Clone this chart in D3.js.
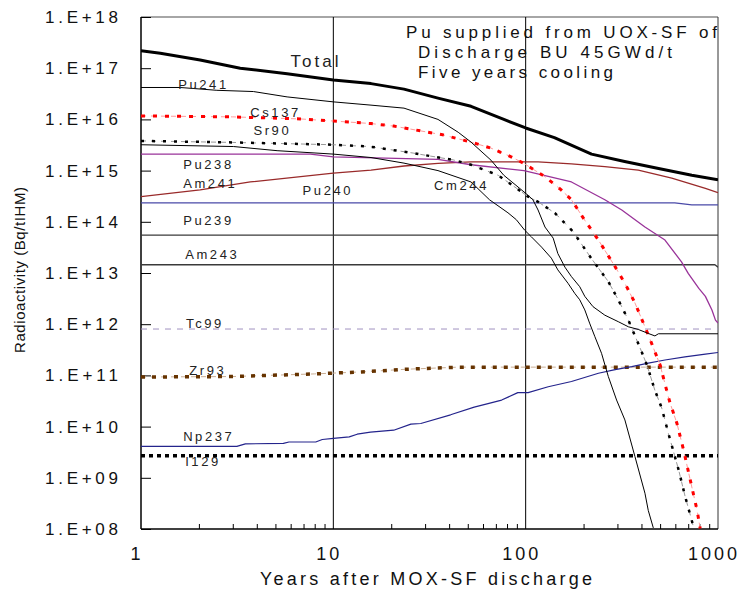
<!DOCTYPE html>
<html>
<head>
<meta charset="utf-8">
<script src="https://cdn.jsdelivr.net/npm/d3@7"></script>
<style>
  body { margin: 0; background: #fff; }
  svg { display: block; font-family: "Liberation Sans", Arial, sans-serif; }
</style>
</head>
<body>
<svg id="chart" width="740" height="590"></svg>
<script>
// values: [years after discharge, Bq/tIHM]
var total = [[1,2.2e17],[1.26,1.95e17],[2.03,1.45e17],[3.28,1.0e17],[5.75,7.8e16],[10,5.9e16],[15.7,5.0e16],
    [23.3,3.9e16],[35,2.6e16],[52,1.8e16],[77,1.0e16],[100,6.8e15],[141,4.4e15],[220,2.1e15],[327,1.5e15],
    [491,1.1e15],[731,8.1e14],[1000,6.6e14]];
var pu241 = [[1,4.2e16],[1.6,4.2e16],[2.48,3.7e16],[3.84,3.5e16],[5.75,2.75e16],[10,2.2e16],[15.7,1.9e16],
    [23.3,1.66e16],[35,1.0e16],[44.6,5.6e15],[52,3.6e15],[66,1.6e15],[77,8.1e14],[100,3.6e14],[109,2.7e14],
    [116,1.7e14],[126,7.9e13],[139,4.8e13],[147,2.4e13],[160,1.3e13],[173,8.5e12],[191,5.4e12],[203,3.5e12],
    [224,2.2e12],[258,1.5e12],[303,1.12e12],[342,8.9e11],[385,7.9e11],[434,6.6e11],[470,5.9e11],[490,6.5e11],
    [1000,6.5e11]];
var cm244 = [[1,3.2e15],[3.03,2.95e15],[5.1,2.45e15],[10,2.1e15],[15.7,1.8e15],[23.3,1.4e15],[35,1.0e15],
    [52,6.0e14],[64.8,2.7e14],[80.9,1.5e14],[89.4,1.1e14],[98.7,6.9e13],[107,5.1e13],[121,3.2e13],[136,1.95e13],
    [147,1.15e13],[166,6.3e12],[180,4.0e12],[191,3.0e12],[203,1.9e12],[215,1.05e12],[229,5.7e11],[248,2.7e11],
    [269,9.5e10],[297,3.3e10],[328,1.35e10],[370,2.6e9],[417,5.0e8],[434,2.3e8],[461,1.05e8]];
var pu238 = [[1,2.1e15],[7.6,2.1e15],[10,1.85e15],[35,1.65e15],[52,1.3e15],[98,1.0e15],[173,6.0e14],
    [258,2.7e14],[316,1.7e14],[417,7.9e13],[470,5.9e13],[530,4.4e13],[646,1.65e13],[700,9.8e12],[795,5.0e12],
    [860,3.5e12],[930,1.9e12],[970,1.2e12],[1000,1.05e12]];
var am241 = [[1,3.1e14],[2.03,4.2e14],[3.7,6.0e14],[6.76,7.6e14],[10,8.9e14],[15.7,1.02e15],[23.3,1.23e15],
    [35,1.38e15],[52,1.48e15],[116,1.48e15],[173,1.35e15],[258,1.2e15],[385,1.02e15],[575,7.1e14],
    [860,4.5e14],[1000,3.7e14]];
var pu240 = [[1,2.35e14],[596,2.35e14],[731,2.15e14],[1000,2.15e14]];
var pu239 = [[1,5.5e13],[1000,5.5e13]];
var am243 = [[1,1.45e13],[964,1.45e13],[1000,1.3e13]];
var tc99 = [[1,8.05e11],[1000,8.05e11]];
var zr93 = [[1,9.3e10],[3,9.5e10],[8,1.07e11],[14,1.17e11],[24,1.32e11],[45,1.45e11],[1000,1.45e11]];
var np237 = [[1,4.1e9],[3.15,4.1e9],[3.49,4.6e9],[5.5,4.7e9],[5.88,5.0e9],[8.1,5.0e9],[8.76,5.6e9],[10,5.9e9],
    [12.1,6.3e9],[13.3,7.1e9],[15.6,7.8e9],[20.6,8.5e9],[25.3,1.12e10],[28.5,1.15e10],[40.7,1.7e10],[54,2.4e10],
    [63.7,2.8e10],[75,3.3e10],[91,4.6e10],[103,4.6e10],[131,6.0e10],[173,7.6e10],[239,1.1e11],[292,1.3e11],
    [356,1.48e11],[434,1.74e11],[530,2.0e11],[673,2.3e11],[860,2.6e11],[1000,2.8e11]];
var i129 = [[1,2.7e9],[1000,2.7e9]];
var cs137 = [[1,1.17e16],[3,1.12e16],[6.76,1.02e16],[10,9.3e15],[15.7,8.3e15],[20.6,7.4e15],[37,5.0e15],
    [52,3.6e15],[66,2.75e15],[84,1.86e15],[98,1.38e15],[126,7.6e14],[153,4.2e14],[173,2.7e14],[203,1.07e14],
    [239,4.4e13],[292,1.32e13],[328,6.3e12],[370,2.6e12],[417,8.9e11],[442,5.2e11],[500,1.6e11],[552,3.8e10],
    [565,2.8e10],[612,1.15e10],[662,3.5e9],[733,6.3e8],[779,2.3e8],[808,1.02e8]];
var sr90 = [[1,3.8e15],[3,3.55e15],[10,3.2e15],[15.4,2.95e15],[26,2.2e15],[30,2.0e15],[42,1.62e15],
    [52,1.3e15],[72,8.1e14],[87,4.9e14],[103,3.1e14],[116,2.45e14],[142,1.48e14],[176,6.5e13],[219,1.95e13],
    [269,6.8e12],[303,3.0e12],[342,1.2e12],[394,3.4e11],[427,1.6e11],[470,5.1e10],[510,2.3e10],[552,7.4e9],
    [625,1.4e9],[675,4.3e8],[733,1.4e8],[748,1.02e8]];

var xTicks = [1, 10, 100, 1000];
var xTickLabels = ["1", "10", "100", "1000"];
var yTicks = [1e8, 1e9, 1e10, 1e11, 1e12, 1e13, 1e14, 1e15, 1e16, 1e17, 1e18];
var yTickLabels = ["1.E+08","1.E+09","1.E+10","1.E+11","1.E+12","1.E+13","1.E+14","1.E+15","1.E+16","1.E+17","1.E+18"];
var titleLines = ["Pu supplied from UOX-SF of", "Discharge BU 45GWd/t", "Five years cooling"];

// curve names, placed in data space (left end of the text baseline)
var seriesLabels = [
    ["Total", 5.99, 1.05e17], ["Pu241", 1.56, 3.9e16], ["Cs137", 3.7, 1.11e16], ["Sr90", 3.84, 5.07e15],
    ["Pu238", 1.656, 1.07e15], ["Am241", 1.656, 4.57e14], ["Pu240", 6.92, 3.27e14], ["Cm244", 33.4, 4.18e14],
    ["Pu239", 1.656, 8.66e13], ["Am243", 1.696, 1.88e13], ["Tc99", 1.716, 8.4e11], ["Zr93", 1.78, 1.02e11],
    ["Np237", 1.656, 5.24e9], ["I129", 1.696, 1.7e9]
];

var cfg = {left: 141, right: 718, top: 17, bottom: 529};

var svg = d3.select("#chart");
var x = d3.scaleLog().domain([1, 1000]).range([cfg.left, cfg.right]);
var y = d3.scaleLog().domain([1e8, 1e18]).range([cfg.bottom, cfg.top]);

svg.append("clipPath").attr("id", "plot-clip")
    .append("rect")
    .attr("x", cfg.left).attr("y", cfg.top)
    .attr("width", cfg.right - cfg.left).attr("height", cfg.bottom - cfg.top);

//frame: grey top, dark right
svg.append("line")
    .attr("x1", cfg.left).attr("x2", cfg.right).attr("y1", cfg.top).attr("y2", cfg.top)
    .style("stroke", "#888").style("stroke-width", "1.5px");
svg.append("line")
    .attr("x1", cfg.right).attr("x2", cfg.right).attr("y1", cfg.top).attr("y2", cfg.bottom)
    .style("stroke", "#333").style("stroke-width", "1px");

//vertical grid at 10 and 100
svg.selectAll(".vgrid")
    .data([10, 100])
    .enter().append("line")
    .attr("class", "vgrid")
    .attr("x1", function(d){return x(d);}).attr("x2", function(d){return x(d);})
    .attr("y1", cfg.top).attr("y2", cfg.bottom)
    .style("stroke", "#000").style("stroke-width", "1px");

//axes, ticks pointing inward
var yAxis = d3.axisRight(y)
    .tickValues(y.ticks())
    .tickSize(6)
    .tickFormat("");
svg.append("g")
    .attr("transform", "translate(" + cfg.left + ",0)")
    .call(yAxis)
    .call(function(g){
        g.select(".domain").remove();
        g.selectAll(".tick line")
            .attr("x2", function(d){return yTicks.indexOf(d) >= 0 ? 10 : 6;})
            .style("stroke", "#000");
    });
svg.append("line")
    .attr("x1", cfg.left).attr("x2", cfg.left).attr("y1", cfg.top).attr("y2", cfg.bottom)
    .style("stroke", "#000").style("stroke-width", "1.5px");

var xAxis = d3.axisTop(x)
    .tickValues(x.ticks().filter(function(d){return xTicks.indexOf(d) < 0;}))
    .tickSize(5)
    .tickFormat("");
svg.append("g")
    .attr("transform", "translate(0," + cfg.bottom + ")")
    .call(xAxis)
    .call(function(g){
        g.select(".domain").remove();
        g.selectAll(".tick line").style("stroke", "#000");
    });
svg.append("line")
    .attr("x1", cfg.left).attr("x2", cfg.right).attr("y1", cfg.bottom).attr("y2", cfg.bottom)
    .style("stroke", "#000").style("stroke-width", "1.5px");

//tick labels
svg.selectAll(".ylab")
    .data(yTicks)
    .enter().append("text")
    .attr("class", "ylab")
    .attr("x", 45)
    .attr("y", function(d){return y(d) + 6;})
    .attr("textLength", 73)
    .attr("lengthAdjust", "spacing")
    .style("font-size", "17px")
    .attr("fill", "#111")
    .text(function(d, i){return yTickLabels[i];});

svg.selectAll(".xlab")
    .data(xTicks)
    .enter().append("text")
    .attr("class", "xlab")
    .attr("x", function(d){return x(d) - 4;})
    .attr("y", 560)
    .attr("text-anchor", "middle")
    .style("font-size", "18px")
    .style("letter-spacing", "3px")
    .attr("fill", "#111")
    .text(function(d, i){return xTickLabels[i];});

//axis titles
svg.append("text")
    .attr("x", 260).attr("y", 585)
    .attr("textLength", 332).attr("lengthAdjust", "spacing")
    .style("font-size", "18px")
    .attr("fill", "#111")
    .text("Years after MOX-SF discharge");
svg.append("text")
    .attr("transform", "translate(25,270) rotate(-90)")
    .attr("text-anchor", "middle")
    .attr("textLength", 166).attr("lengthAdjust", "spacing")
    .style("font-size", "15px")
    .attr("fill", "#111")
    .text("Radioactivity (Bq/tIHM)");

//curves
var line = d3.line()
    .x(function(d){return x(d[0]);})
    .y(function(d){return y(d[1]);});

var curves = [
    {data: tc99, color: "#a092c0", width: 1, dash: "6,6"},
    {data: zr93, color: "#c9ae94", width: 1, dash: "5,5"},
    {data: zr93, color: "#663300", width: 3.5, dash: "4,7"},
    {data: i129, color: "#000", width: 3.5, dash: "4,4"},
    {data: np237, color: "#24248c", width: 1.2},
    {data: pu239, color: "#3a3a3a", width: 1.3},
    {data: am243, color: "#3a3a3a", width: 1.3},
    {data: pu240, color: "#4a4aa8", width: 1.3},
    {data: am241, color: "#992a2a", width: 1.3},
    {data: pu238, color: "#993399", width: 1.3},
    {data: cm244, color: "#000", width: 1},
    {data: sr90, color: "#999", width: 1, dash: "5,5"},
    {data: sr90, color: "#000", width: 2.5, dash: "3,8"},
    {data: cs137, color: "#ff9a9a", width: 1, dash: "5,5"},
    {data: cs137, color: "#f00", width: 3, dash: "4,8"},
    {data: pu241, color: "#000", width: 1},
    {data: total, color: "#000", width: 3}
];

svg.append("g")
    .attr("clip-path", "url(#plot-clip)")
    .selectAll("path")
    .data(curves)
    .enter().append("path")
    .attr("d", function(d){return line(d.data);})
    .style("fill", "none")
    .style("stroke", function(d){return d.color;})
    .style("stroke-width", function(d){return d.width + "px";})
    .style("stroke-dasharray", function(d){return d.dash || null;})
    .style("stroke-linejoin", "round");

//curve names
svg.selectAll(".legend")
    .data(seriesLabels)
    .enter().append("text")
    .attr("class", "legend")
    .attr("x", function(d){return x(d[1]);})
    .attr("y", function(d){return y(d[2]);})
    .style("font-size", function(d){return d[0] == "Total" ? "17px" : "13px";})
    .style("letter-spacing", function(d){return d[0] == "Total" ? "3px" : "2.6px";})
    .attr("fill", "#222")
    .text(function(d){return d[0];});

//note in the top right
var widths = [311, 254, 195];
svg.selectAll(".note")
    .data(titleLines)
    .enter().append("text")
    .attr("class", "note")
    .attr("x", function(d, i){return i == 0 ? 406 : 418;})
    .attr("y", function(d, i){return 38 + i * 20;})
    .attr("textLength", function(d, i){return widths[i];})
    .attr("lengthAdjust", "spacing")
    .style("font-size", "17px")
    .attr("fill", "#111")
    .text(function(d){return d;});
</script>
</body>
</html>
